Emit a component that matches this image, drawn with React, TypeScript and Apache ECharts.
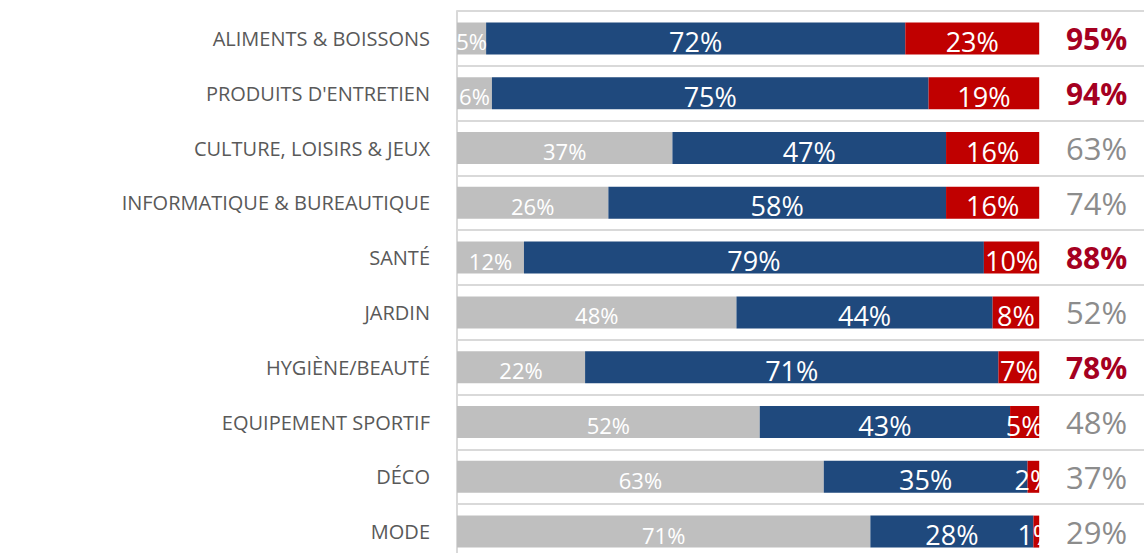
import React, { useEffect, useRef } from "react";
import * as echarts from "echarts";

const categories = [
  "ALIMENTS & BOISSONS",
  "PRODUITS D'ENTRETIEN",
  "CULTURE, LOISIRS & JEUX",
  "INFORMATIQUE & BUREAUTIQUE",
  "SANTÉ",
  "JARDIN",
  "HYGIÈNE/BEAUTÉ",
  "EQUIPEMENT SPORTIF",
  "DÉCO",
  "MODE",
];
const greyShare = [5, 6, 37, 26, 11.5, 48, 22, 52, 63, 71];
const blueShare = [72, 75, 47, 58, 79, 44, 71, 43, 35, 28];
const redShare = [23, 19, 16, 16, 9.5, 8, 7, 5, 2, 1];
const totals = [95, 94, 63, 74, 88, 52, 78, 48, 37, 29];
const HIGHLIGHT_MIN = 75;

const X_MAX = 118;
const FONT = "'Open Sans', 'Noto Sans', sans-serif";

export default function App() {
  const ref = useRef<HTMLDivElement>(null);
  useEffect(() => {
    if (!ref.current) return;
    const chart = echarts.init(ref.current, undefined, { renderer: "svg" });
    const filler = categories.map(() => X_MAX - 100);
    const pct = (p: any) => Math.round(p.value) + "%";
    chart.setOption({
      animation: false,
      grid: { left: 457, right: 0, top: 11, height: 548, containLabel: false },
      xAxis: { type: "value", min: 0, max: X_MAX, show: false },
      yAxis: {
        type: "category",
        inverse: true,
        data: categories,
        axisTick: { show: false },
        axisLine: { show: true, lineStyle: { color: "#D9D9D9", width: 2 } },
        splitLine: { show: true, interval: 0, lineStyle: { color: "#D9D9D9", width: 2 } },
        axisLabel: {
          margin: 27,
          color: "#595959",
          fontSize: 20,
          fontFamily: FONT,
          interval: 0,
        },
      },
      series: [
        {
          type: "bar",
          stack: "s",
          data: greyShare,
          barWidth: 32,
          silent: true,
          itemStyle: { color: "#BFBFBF" },
          label: { show: true, position: "inside", color: "#fff", fontSize: 22, fontFamily: FONT, offset: [0, 3], formatter: pct },
        },
        {
          type: "bar",
          stack: "s",
          data: blueShare,
          barWidth: 32,
          silent: true,
          itemStyle: { color: "#1F497D" },
          label: { show: true, position: "inside", color: "#fff", fontSize: 27, fontFamily: FONT, offset: [0, 3], formatter: pct },
        },
        {
          type: "bar",
          stack: "s",
          data: redShare,
          barWidth: 32,
          silent: true,
          itemStyle: { color: "#C00000" },
          label: { show: true, position: "inside", color: "#fff", fontSize: 27, fontFamily: FONT, offset: [0, 3], formatter: pct },
        },
        {
          type: "bar",
          stack: "s",
          data: filler,
          barWidth: 32,
          silent: true,
          itemStyle: { color: "transparent" },
          label: {
            show: true,
            position: "inside",
            offset: [5, 0],
            formatter: (p: any) => {
              const t = totals[p.dataIndex];
              return t >= HIGHLIGHT_MIN ? `{hi|${t}%}` : `{lo|${t}%}`;
            },
            rich: {
              hi: { color: "#A50021", fontWeight: "bold", fontSize: 30, fontFamily: FONT },
              lo: { color: "#8C8C8C", fontSize: 31, fontFamily: FONT },
            },
          },
        },
      ],
    });
    return () => chart.dispose();
  }, []);
  return (
    <div
      ref={ref}
      style={{ position: "fixed", left: 0, top: 0, width: 1144, height: 570, background: "#fff" }}
    />
  );
}
